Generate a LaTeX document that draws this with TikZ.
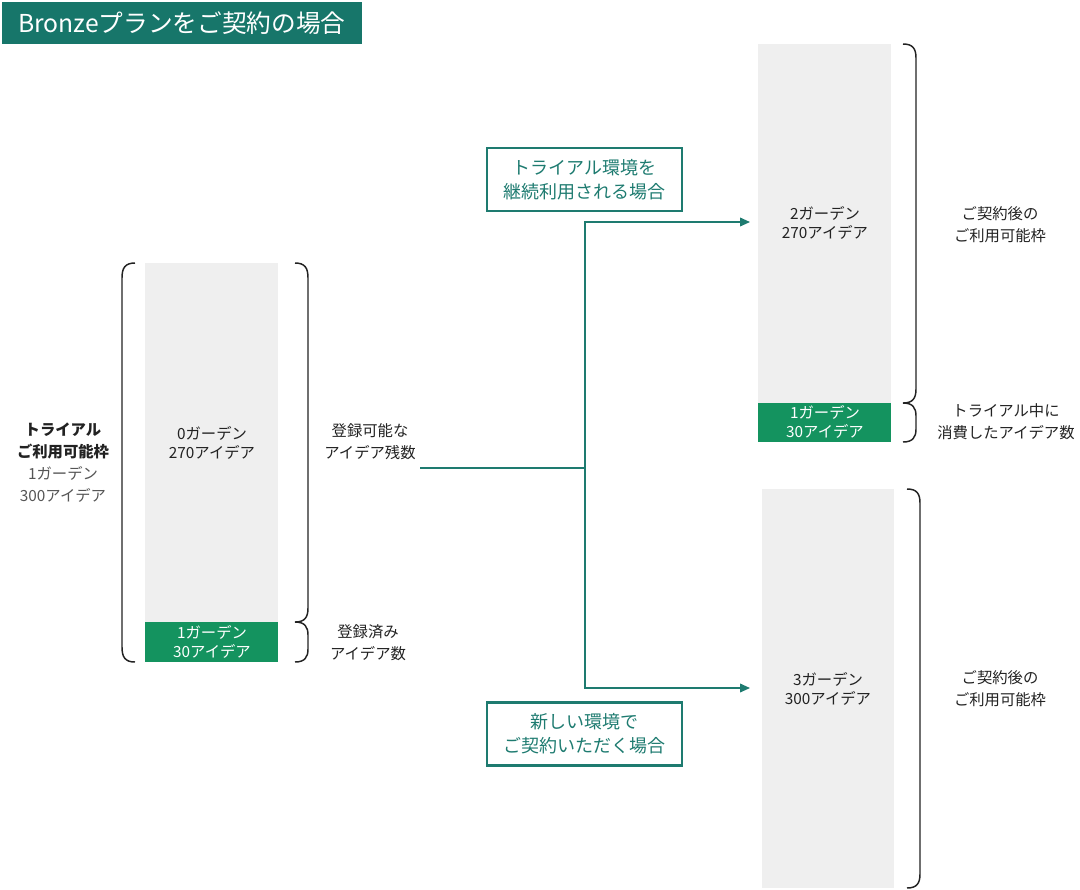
\documentclass[tikz,border=0pt]{standalone}
\usepackage{fontspec}
\newfontfamily\jpfont{Noto Sans CJK JP}
\usetikzlibrary{positioning, arrows.meta}

\definecolor{titleteal}{HTML}{17766A}
\definecolor{lineteal}{HTML}{1E7B70}
\definecolor{usedgreen}{HTML}{14935F}
\definecolor{colgray}{HTML}{EFEFEF}
\definecolor{labelgray}{HTML}{555555}
\definecolor{ink}{HTML}{222222}

\tikzset{
  txt/.style={font=\jpfont\fontsize{11.5pt}{16.5pt}\selectfont, align=center, inner sep=0pt, text=ink},
  coltxt/.style={txt, font=\jpfont\fontsize{11.5pt}{14.5pt}\selectfont},
  usedtxt/.style={coltxt, text=white},
  casebox/.style={draw=lineteal, line width=1.6pt, text=lineteal, align=center,
    font=\jpfont\fontsize{13.5pt}{18pt}\selectfont, minimum width=146.25pt, minimum height=47.25pt, inner sep=0pt},
  flow/.style={draw=lineteal, line width=1.2pt},
  flowarrow/.style={flow, -{Triangle[length=7.5pt,width=6.5pt]}},
  brace/.style={draw=ink, line width=1.1pt}
}

\begin{document}
\begin{tikzpicture}[x=0.75pt, y=-0.75pt]
    \useasboundingbox (0,0) rectangle (1080,889);

    % title
    \node[fill=titleteal, text=white, minimum width=270pt, minimum height=31.5pt, inner sep=0pt,
      font=\jpfont\fontsize{18.5pt}{22pt}\selectfont] (title) at (182,23) {Bronzeプランをご契約の場合};

    % trial column
    \fill[colgray] (145,263) rectangle (278,622);
    \fill[usedgreen] (145,622) rectangle (278,662);
    \node[coltxt] (trialrest) at (212,443) {0ガーデン\\270アイデア};
    \node[usedtxt] (trialused) at (212,642) {1ガーデン\\30アイデア};
    \node[txt] (trialcap) at (63,463) {\textbf{トライアル}\\\textbf{ご利用可能枠}\\\textcolor{labelgray}{1ガーデン}\\\textcolor{labelgray}{300アイデア}};
    \draw[brace] (135,263) .. controls (125,263) and (122,268) .. (122,278) -- (122,647) .. controls (122,657) and (125,662) .. (135,662);
    \draw[brace] (295,263) .. controls (305,263) and (308,268) .. (308,278) -- (308,608) .. controls (308,617) and (305,622) .. (295,622)
      .. controls (305,622) and (308,627) .. (308,635) -- (308,649) .. controls (308,657) and (305,662) .. (295,662);
    \node[txt] (remain) at (370,442) {登録可能な\\アイデア残数};
    \node[txt] (used) at (368,643) {登録済み\\アイデア数};

    % continue trial environment
    \fill[colgray] (758,44) rectangle (891,403);
    \fill[usedgreen] (758,403) rectangle (891,442);
    \node[coltxt] (contrest) at (825,223) {2ガーデン\\270アイデア};
    \node[usedtxt] (contused) at (825,422) {1ガーデン\\30アイデア};
    \draw[brace] (903,44) .. controls (913,44) and (916,49) .. (916,58) -- (916,389) .. controls (916,398) and (913,403) .. (903,403)
      .. controls (913,403) and (916,408) .. (916,416) -- (916,429) .. controls (916,437) and (913,442) .. (903,442);
    \node[txt] (contcap) at (1000,225) {ご契約後の\\ご利用可能枠};
    \node[txt] (contspent) at (1006,422) {トライアル中に\\消費したアイデア数};

    % new environment
    \fill[colgray] (762,489) rectangle (894,888);
    \node[coltxt] (newrest) at (828,689) {3ガーデン\\300アイデア};
    \draw[brace] (907,489) .. controls (917,489) and (920,494) .. (920,503) -- (920,874) .. controls (920,883) and (917,888) .. (907,888);
    \node[txt] (newcap) at (1000,689) {ご契約後の\\ご利用可能枠};

    % branches
    \coordinate (start) at (420,468);
    \coordinate (split) at (585,468);
    \coordinate (contend) at (750,222);
    \coordinate (newend) at (750,688);
    \draw[flow] (start) -- (split);
    \draw[flowarrow] (split) |- (contend);
    \draw[flowarrow] (split) |- (newend);
    \node[casebox] (contcase) at (584.5,179.5) {トライアル環境を\\継続利用される場合};
    \node[casebox] (newcase) at (584.5,734) {新しい環境で\\ご契約いただく場合};
\end{tikzpicture}
\end{document}
